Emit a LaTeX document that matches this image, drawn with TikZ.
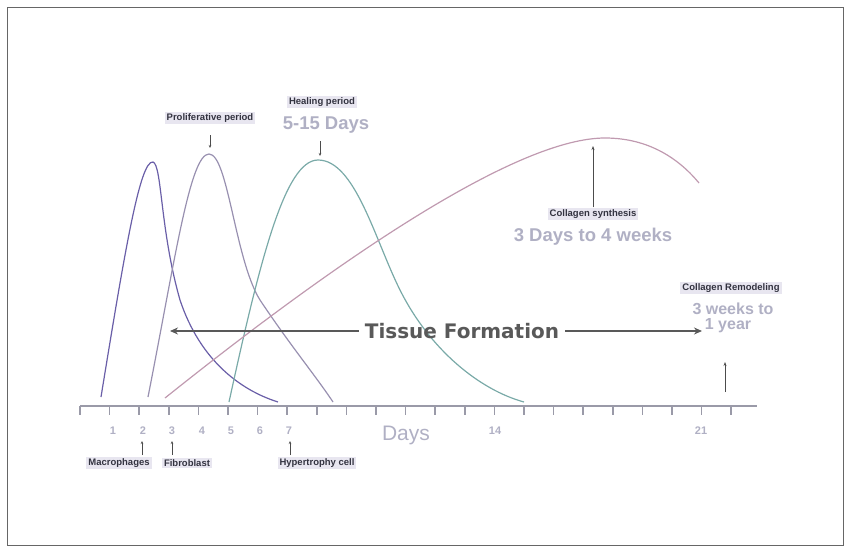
\documentclass[tikz,border=0pt]{standalone}
\usepackage{fontspec}
\setmainfont{Liberation Sans}
\newfontfamily\dejab{DejaVu Sans}
\usetikzlibrary{arrows.meta}
\begin{document}
\begin{tikzpicture}[x=1pt,y=-1pt,
 lbl/.style={fill=boxbg,inner sep=2pt,font=\bfseries\fontsize{9.5}{10}\selectfont,text=labtext},
 grey/.style={text=lightgrey,font=\bfseries\fontsize{18.5}{19}\selectfont},
 tiny/.style={-{Stealth[length=3pt,width=2.5pt]},black!70,line width=0.5pt},
 curve/.style={line width=1.2pt}]
\definecolor{boxbg}{HTML}{E8E6F0}
\definecolor{labtext}{HTML}{333340}
\definecolor{lightgrey}{HTML}{B0B0C4}
\definecolor{axisc}{HTML}{9A9AA8}
\definecolor{mac}{HTML}{6A5FA8}
\definecolor{pro}{HTML}{9890B0}
\definecolor{hea}{HTML}{7AAAA8}
\definecolor{col}{HTML}{C09AB0}
\useasboundingbox (0,0) rectangle (850,552);
\draw[black!60,line width=0.8pt] (7,7) rectangle (843,545);
% axis
\draw[axisc,line width=2pt] (80,406) -- (757,406);
\foreach \k in {0,...,22} \draw[axisc,line width=1.5pt] (80+29.6*\k,406) -- (80+29.6*\k,415);
\foreach \x/\t in {113/1,143/2,172/3,202/4,231/5,260/6,289/7,495/14,701/21}
 \node[text=lightgrey,font=\bfseries\fontsize{11}{11}\selectfont] at (\x,431) {\t};
\node[text=lightgrey,font=\fontsize{21}{21}\selectfont] (days) at (406,435) {Days};
% curves
\draw[curve,mac] (101,397) .. controls (125,250) and (140,160) .. (153,162) .. controls (162,165) and (160,230) .. (180,300) .. controls (200,360) and (240,390) .. (278,402);
\draw[curve,pro] (148,397) .. controls (175,260) and (190,154) .. (209,154) .. controls (228,154) and (235,260) .. (260,300) .. controls (290,345) and (315,375) .. (333,402);
\draw[curve,hea] (229,402) .. controls (260,260) and (285,160) .. (318,160) .. controls (355,160) and (375,240) .. (400,290) .. controls (430,350) and (480,390) .. (524,402);
\draw[curve,col] (165,398) .. controls (350,250) and (520,138) .. (605,138) .. controls (650,138) and (680,160) .. (699,183);
% top labels
\node[lbl] (prol) at (210,118) {Proliferative period};
\coordinate (prolt) at (210,148);
\draw[tiny] (210,135) -- (prolt);
\node[lbl] (heal) at (322,102) {Healing period};
\node[grey] (h515) at (326,125) {5-15 Days};
\coordinate (healt) at (320,156);
\draw[tiny] (320,141) -- (healt);
\node[lbl] (colsyn) at (593,214) {Collagen synthesis};
\node[grey] (c3d) at (593,237) {3 Days to 4 weeks};
\coordinate (colt) at (593,146);
\draw[black!70,line width=0.6pt,-{Stealth[length=4pt,width=3pt]}] (colsyn.north) -- (colt);
\node[lbl] (colrem) at (731,288) {Collagen Remodeling};
\node[grey,font=\bfseries\fontsize{16}{17}\selectfont] (c3w) at (733,309) {3 weeks to};
\node[grey,font=\bfseries\fontsize{16}{17}\selectfont] (c1y) at (728,326) {1 year};
\coordinate (remb) at (725,392);\coordinate (remt) at (725,362);
\draw[black!70,line width=0.6pt,-{Stealth[length=4pt,width=3pt]}] (remb) -- (remt);
% tissue formation
\node[text=black!65,font=\dejab\bfseries\fontsize{20}{20}\selectfont,inner sep=6pt] (tf) at (462,331) {Tissue Formation};
\coordinate (tfl) at (170,331);\coordinate (tfr) at (702,331);
\draw[black!65,line width=2pt,-{Stealth[length=8pt,width=7pt]}] (tf.west) -- (tfl);
\draw[black!65,line width=2pt,-{Stealth[length=8pt,width=7pt]}] (tf.east) -- (tfr);
% bottom labels
\node[lbl] (macl) at (119,463) {Macrophages};
\node[lbl] (fib) at (187,463) {Fibroblast};
\node[lbl] (hyp) at (317,463) {Hypertrophy cell};
\coordinate (m1) at (142,441);\coordinate (f1) at (172,441);\coordinate (h1) at (290,441);
\draw[tiny] (142,455) -- (m1);
\draw[tiny] (172,455) -- (f1);
\draw[tiny] (290,455) -- (h1);
\end{tikzpicture}
\end{document}
